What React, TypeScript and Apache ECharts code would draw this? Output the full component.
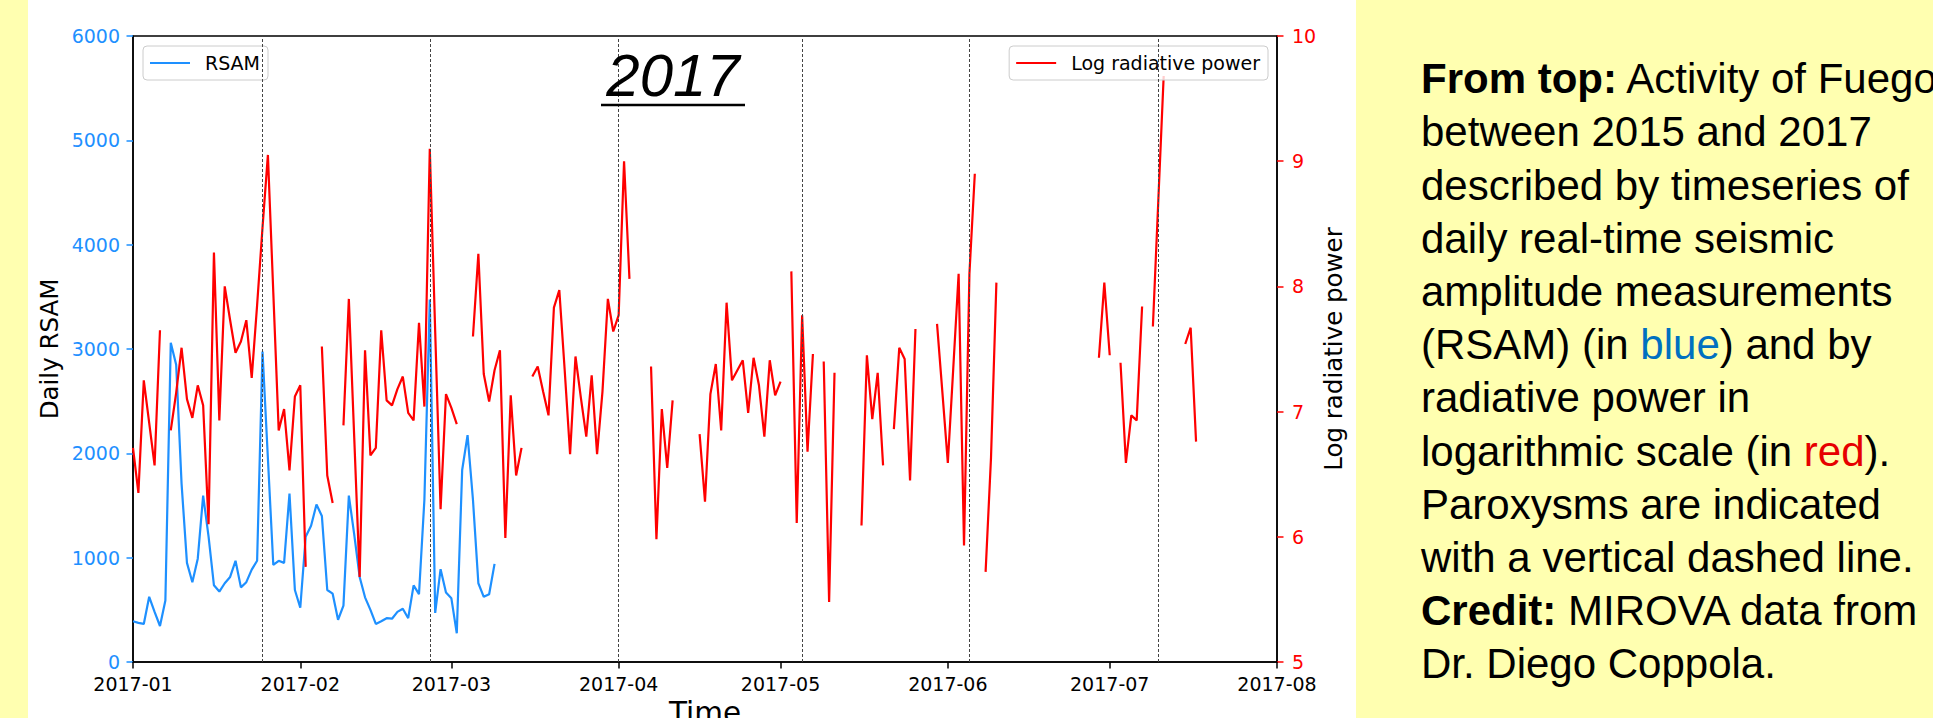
import React, { useEffect, useRef } from "react";
import * as echarts from "echarts";

// ---------- data ----------
const startDate = "2017-01-01";
const endDate = "2017-08-01";
const monthTicks = [
  "2017-01-01", "2017-02-01", "2017-03-01", "2017-04-01",
  "2017-05-01", "2017-06-01", "2017-07-01", "2017-08-01",
];
const paroxysmDates = [
  "2017-01-25", "2017-02-25", "2017-04-01", "2017-05-05", "2017-06-05", "2017-07-10",
];
// Daily RSAM, one value per day from 2017-01-01
const rsam = [
  390, 375, 365, 625, 480, 345, 590, 3060, 2850, 1710,
  950, 765, 990, 1595, 1205, 735, 675, 755, 815, 970,
  715, 765, 885, 970, 2975, 1950, 930, 970, 950, 1615,
  690, 520, 1200, 1305, 1510, 1400, 690, 655, 405, 540,
  1595, 1220, 815, 620, 500, 365, 390, 420, 415, 480,
  510, 420, 735, 650, 1555, 3475, 470, 890, 665, 610,
  275, 1840, 2175, 1555, 755, 625, 650, 940,
];
// Log radiative power, one value per day from 2017-01-01 (null = no data)
const logPower = [
  6.71, 6.35, 7.25, 6.91, 6.57, 7.65, null, 6.85, 7.15, 7.51,
  7.10, 6.95, 7.21, 7.05, 6.10, 8.27, 6.93, 8.00, 7.73, 7.47,
  7.56, 7.73, 7.27, 7.85, 8.47, 9.05, 7.95, 6.85, 7.02, 6.53,
  7.12, 7.21, 5.76, null, null, 7.52, 6.49, 6.27, null, 6.89,
  7.90, 6.79, 5.68, 7.49, 6.65, 6.71, 7.65, 7.09, 7.05, 7.18,
  7.28, 6.99, 6.93, 7.71, 7.04, 9.10, 7.64, 6.22, 7.14, 7.03,
  6.90, null, null, 7.60, 8.26, 7.30, 7.08, 7.33, 7.49, 5.99,
  7.13, 6.49, 6.71, null, 7.28, 7.36, 7.16, 6.97, 7.83, 7.97,
  7.33, 6.66, 7.44, 7.11, 6.80, 7.29, 6.66, 7.16, 7.90, 7.64,
  7.77, 9.00, 8.06, null, null, null, 7.36, 5.98, 7.02, 6.55,
  7.09, null, null, null, null, 6.82, 6.28, 7.14, 7.38, 6.85,
  7.87, 7.25, 7.33, 7.41, 6.99, 7.43, 7.21, 6.80, 7.41, 7.13,
  7.24, null, 8.12, 6.11, 7.77, 6.68, 7.46, null, 7.40, 5.48,
  7.31, null, null, null, null, 6.09, 7.45, 6.94, 7.31, 6.57,
  null, 6.86, 7.51, 7.42, 6.45, 7.66, null, null, null, 7.70,
  7.15, 6.59, 7.34, 8.10, 5.93, 8.10, 8.90, null, 5.72, 6.63,
  8.03, null, null, null, null, null, null, null, null, null,
  null, null, null, null, null, null, null, null, null, 7.43,
  8.03, 7.45, null, 7.39, 6.59, 6.97, 6.93, 7.84, null, 7.68,
  8.68, 9.68, null, null, null, 7.54, 7.67, 6.76,
];
const descriptionLines = [
  "{b|From top:} Activity of Fuego",
  "between 2015 and 2017",
  "described by timeseries of",
  "daily real-time seismic",
  "amplitude measurements",
  "(RSAM) (in {blue|blue}) and by",
  "radiative power in",
  "logarithmic scale (in {red|red}).",
  "Paroxysms are indicated",
  "with a vertical dashed line.",
  "{b|Credit:} MIROVA data from",
  "Dr. Diego Coppola.",
];

// ---------- helpers ----------
const DAY = 86400000;
function toTs(s: string): number {
  const [y, m, d] = s.split("-").map(Number);
  return Date.UTC(y, m - 1, d);
}
function fmtMonth(v: number): string {
  const d = new Date(v);
  return d.getUTCFullYear() + "-" + String(d.getUTCMonth() + 1).padStart(2, "0");
}

const BLUE = "#1E90FF";
const RED = "#FF0000";
const AXIS_FONT = "DejaVu Sans";
const TEXT_FONT = "Liberation Sans";

export default function App() {
  const ref = useRef<HTMLDivElement>(null);

  useEffect(() => {
    if (!ref.current) return;
    const chart = echarts.init(ref.current, null, { renderer: "svg" });
    const t0 = toTs(startDate);
    const tickValues = monthTicks.map(toTs);

    const legendBase = {
      orient: "horizontal",
      top: 46,
      icon: "rect",
      itemWidth: 40,
      itemHeight: 2.2,
      padding: [7.5, 8, 7.5, 7],
      backgroundColor: "rgba(255,255,255,0.8)",
      borderColor: "#CCCCCC",
      borderWidth: 1,
      borderRadius: 4,
      selectedMode: false,
      textStyle: { fontSize: 19, color: "#000", fontFamily: AXIS_FONT, padding: [0, 0, 0, 10] },
    };

    const option: any = {
      animation: false,
      backgroundColor: "#FFFFB0",
      textStyle: { fontFamily: AXIS_FONT },
      grid: {
        left: 133, top: 36, width: 1144, height: 626,
        show: true, borderColor: "#000", borderWidth: 1.5, backgroundColor: "transparent",
        containLabel: false, outerBoundsMode: "none",
      },
      legend: [
        { ...legendBase, left: 143, data: [{ name: "RSAM", icon: "rect" }] },
        { ...legendBase, right: 665, data: [{ name: "Log radiative power", icon: "rect" }] },
      ],
      xAxis: {
        type: "value",
        min: t0,
        max: toTs(endDate),
        scale: true,
        name: "Time",
        nameLocation: "middle",
        nameGap: 36,
        nameMoveOverlap: false,
        nameTextStyle: { fontSize: 29.5, color: "#000", fontFamily: AXIS_FONT },
        axisLine: { show: true, onZero: false, lineStyle: { color: "#000", width: 1.5 } },
        axisTick: { show: true, length: 6.5, customValues: tickValues, lineStyle: { color: "#000", width: 1.5 } },
        axisLabel: {
          customValues: tickValues,
          formatter: (v: number) => fmtMonth(v),
          fontSize: 19, color: "#000", margin: 12, fontFamily: AXIS_FONT,
          showMinLabel: true, showMaxLabel: true, hideOverlap: false,
        },
        splitLine: { show: false },
        minorTick: { show: false },
      },
      yAxis: [
        {
          type: "value", position: "left", min: 0, max: 6000, interval: 1000,
          name: "Daily RSAM", nameLocation: "middle", nameGap: 71, nameRotate: 90,
          nameMoveOverlap: false,
          nameTextStyle: { fontSize: 24.5, color: "#000", fontFamily: AXIS_FONT },
          axisLine: { show: true, lineStyle: { color: "#000", width: 1.5 } },
          axisTick: { show: true, length: 6.5, lineStyle: { color: BLUE, width: 1.5 } },
          axisLabel: {
            color: BLUE, fontSize: 19, margin: 13, fontFamily: AXIS_FONT,
            formatter: (v: number) => String(v),
          },
          splitLine: { show: false },
        },
        {
          type: "value", position: "right", min: 5, max: 10, interval: 1,
          name: "Log radiative power", nameLocation: "middle", nameGap: 44, nameRotate: 90,
          nameMoveOverlap: false,
          nameTextStyle: { fontSize: 24.5, color: "#000", fontFamily: AXIS_FONT },
          axisLine: { show: true, lineStyle: { color: "#000", width: 1.5 } },
          axisTick: { show: true, length: 6.5, lineStyle: { color: RED, width: 1.5 } },
          axisLabel: {
            color: RED, fontSize: 19, margin: 15, fontFamily: AXIS_FONT,
            formatter: (v: number) => String(v),
          },
          splitLine: { show: false },
        },
      ],
      series: [
        {
          name: "RSAM",
          type: "line",
          yAxisIndex: 0,
          symbol: "none",
          data: rsam.map((v, i) => [t0 + i * DAY, v]),
          lineStyle: { color: BLUE, width: 2.2 },
          itemStyle: { color: BLUE },
          z: 2,
        },
        {
          name: "Log radiative power",
          type: "line",
          yAxisIndex: 1,
          symbol: "none",
          connectNulls: false,
          data: logPower.map((v, i) => [t0 + i * DAY, v == null ? "-" : v]),
          lineStyle: { color: RED, width: 2.2 },
          itemStyle: { color: RED },
          z: 3,
          markLine: {
            silent: true,
            symbol: ["none", "none"],
            label: { show: false },
            lineStyle: { color: "#444", type: [3, 2], width: 1 },
            data: paroxysmDates.map((d) => ({ xAxis: toTs(d) })),
          },
        },
      ],
      graphic: [
        {
          type: "rect", z: -10, silent: true,
          shape: { x: 28, y: 0, width: 1328, height: 718 },
          style: { fill: "#FFFFFF" },
        },
        {
          type: "text", x: 673, y: 75.3, z: 10,
          style: {
            text: "2017", fontSize: 60, fontStyle: "italic", fontFamily: TEXT_FONT, fill: "#000",
            align: "center", verticalAlign: "middle", textAlign: "center", textVerticalAlign: "middle",
          },
        },
        {
          type: "line", z: 10,
          shape: { x1: 601, y1: 105, x2: 745, y2: 105 },
          style: { stroke: "#000", lineWidth: 2.5 },
        },
        {
          type: "text", x: 1421, y: 52, z: 10,
          style: {
            text: descriptionLines.join("\n"),
            fontSize: 42, fontFamily: TEXT_FONT, fill: "#000", lineHeight: 53.2,
            verticalAlign: "top", textVerticalAlign: "top", align: "left", textAlign: "left",
            rich: {
              b: { fontSize: 42, fontFamily: TEXT_FONT, fontWeight: "bold", fill: "#000", lineHeight: 53.2 },
              blue: { fontSize: 42, fontFamily: TEXT_FONT, fill: "#0070C0", lineHeight: 53.2 },
              red: { fontSize: 42, fontFamily: TEXT_FONT, fill: "#E60000", lineHeight: 53.2 },
            },
          },
        },
      ],
    };

    chart.setOption(option);
    return () => chart.dispose();
  }, []);

  return (
    <div
      ref={ref}
      style={{ position: "fixed", left: 0, top: 0, width: 1933, height: 718 }}
    />
  );
}
